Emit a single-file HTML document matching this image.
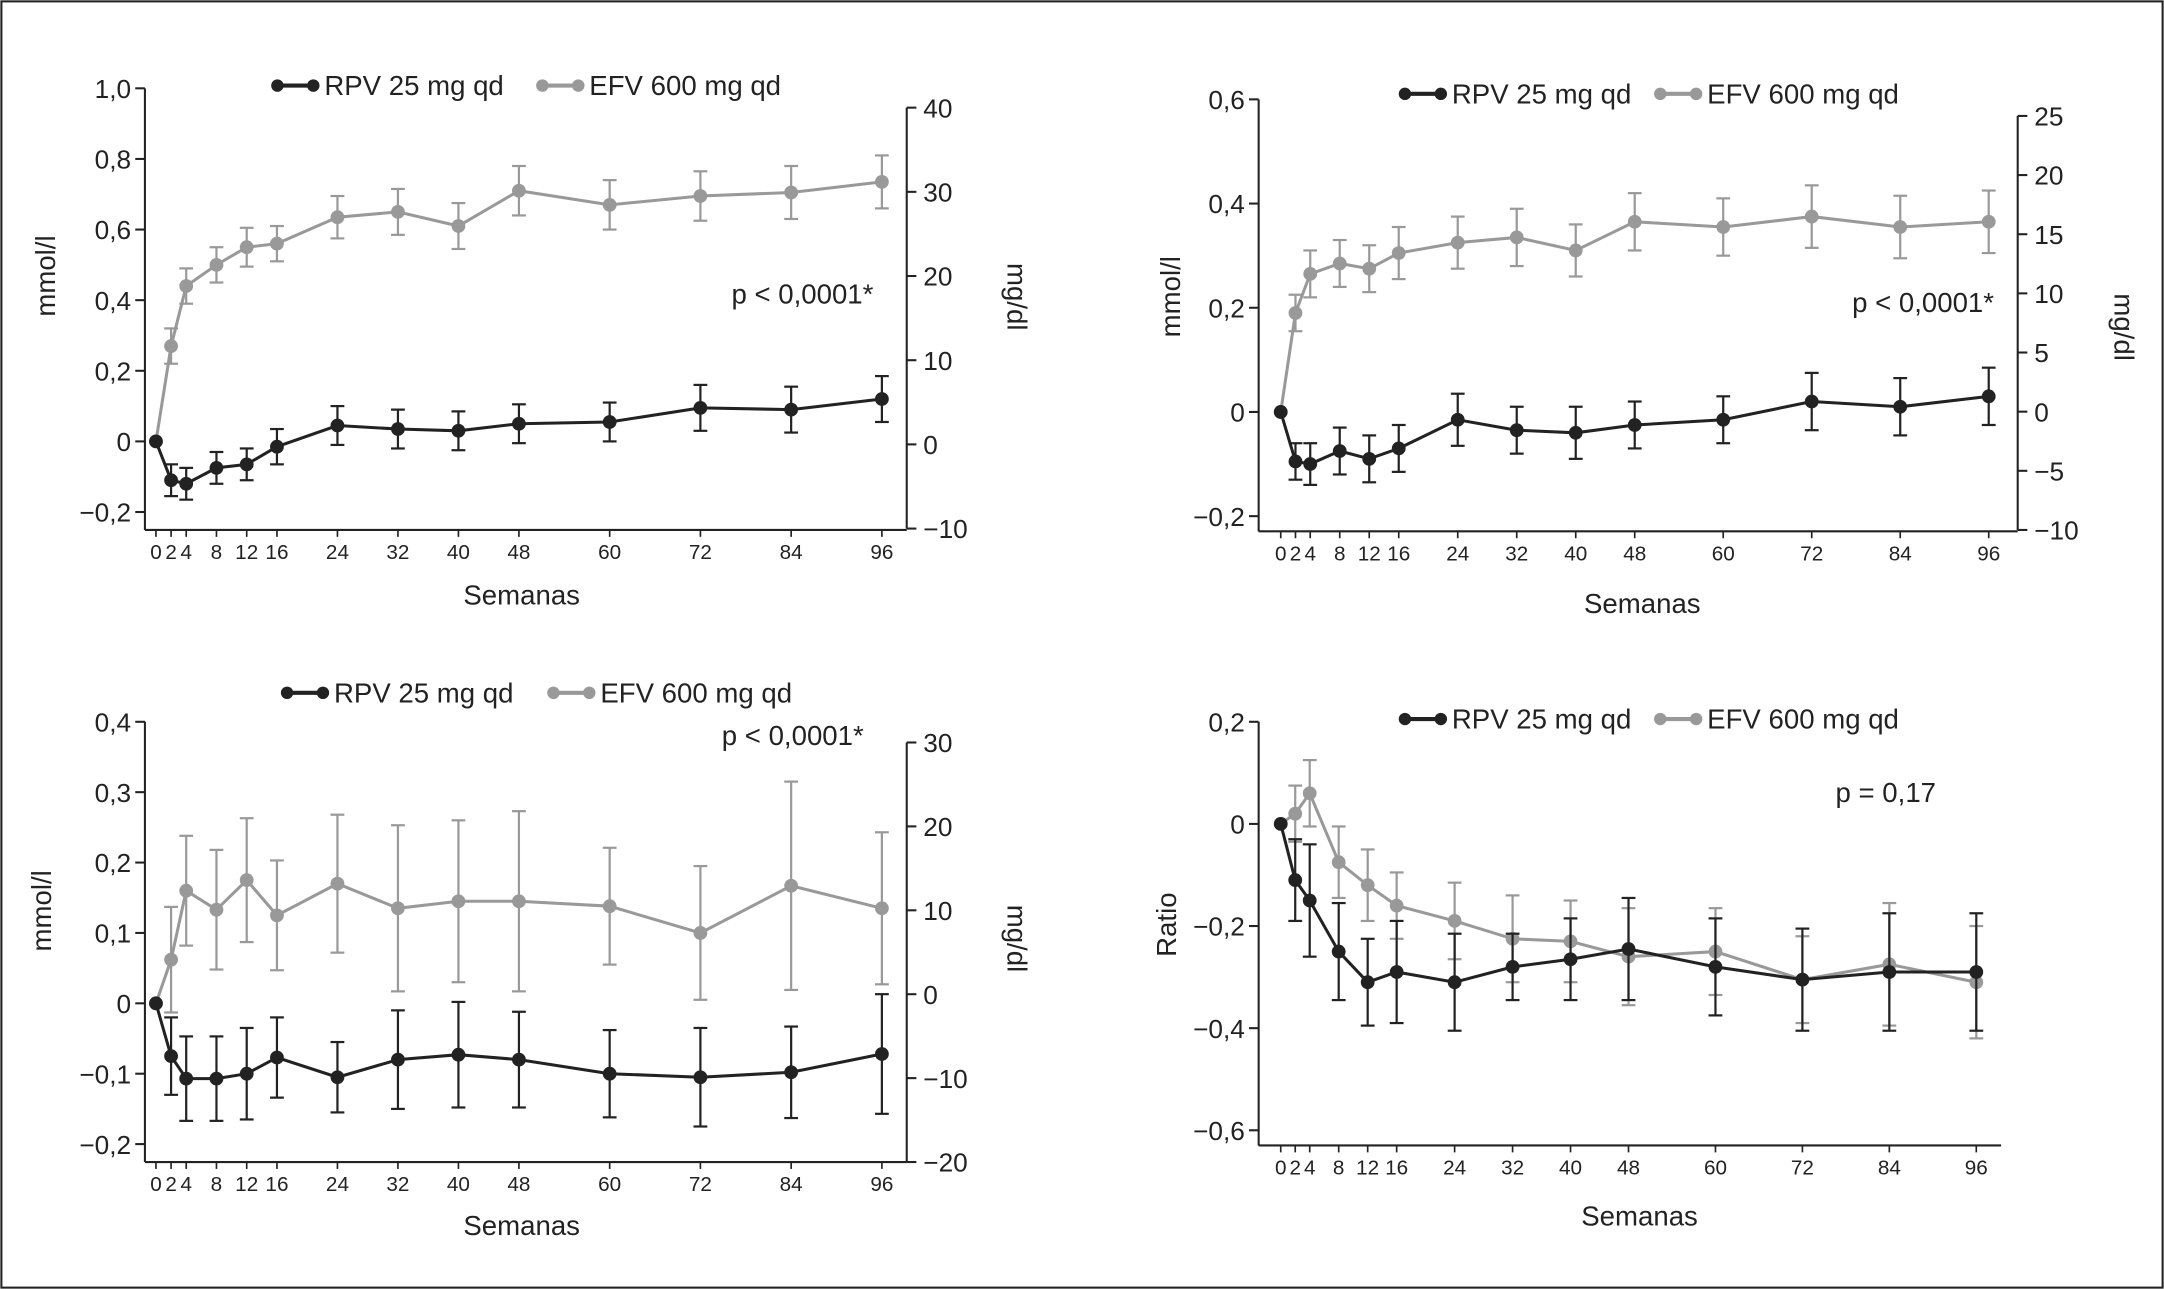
<!DOCTYPE html>
<html><head><meta charset="utf-8"><style>
html,body{margin:0;padding:0;background:#fff}
svg{display:block}
text{font-family:"Liberation Sans Narrow","Liberation Sans",sans-serif;fill:#222}
</style></head><body>
<svg id="fig" width="2164" height="1289" viewBox="0 0 1568 934" xmlns="http://www.w3.org/2000/svg">
<rect x="1" y="1" width="1566" height="932" fill="#fff" stroke="#222" stroke-width="1.5"/>
</svg>
<script>
const weeks=[0,2,4,8,12,16,24,32,40,48,60,72,84,96];
// Panel A
const aEFV=[0,0.27,0.44,0.50,0.55,0.56,0.635,0.65,0.61,0.71,0.67,0.695,0.705,0.735];
const aEFVerr=[0,0.05,0.05,0.05,0.055,0.05,0.06,0.065,0.065,0.07,0.07,0.07,0.075,0.075];
const aRPV=[0,-0.11,-0.12,-0.075,-0.065,-0.015,0.045,0.035,0.03,0.05,0.055,0.095,0.09,0.12];
const aRPVerr=[0,0.045,0.045,0.045,0.045,0.05,0.055,0.055,0.055,0.055,0.055,0.065,0.065,0.065];
const aLeftTicks=[1.0,0.8,0.6,0.4,0.2,0,-0.2];
const aRightTicks=[40,30,20,10,0,-10];
// Panel B
const bEFV=[0,0.19,0.265,0.285,0.275,0.305,0.325,0.335,0.31,0.365,0.355,0.375,0.355,0.365];
const bEFVerr=[0,0.035,0.045,0.045,0.045,0.05,0.05,0.055,0.05,0.055,0.055,0.06,0.06,0.06];
const bRPV=[0,-0.095,-0.1,-0.075,-0.09,-0.07,-0.015,-0.035,-0.04,-0.025,-0.015,0.02,0.01,0.03];
const bRPVerr=[0,0.035,0.04,0.045,0.045,0.045,0.05,0.045,0.05,0.045,0.045,0.055,0.055,0.055];
const bLeftTicks=[0.6,0.4,0.2,0,-0.2];
const bRightTicks=[25,20,15,10,5,0,-5,-10];
// Panel C
const cEFV=[0,0.062,0.16,0.133,0.175,0.125,0.17,0.135,0.145,0.145,0.138,0.1,0.167,0.135];
const cEFVerr=[0,0.075,0.078,0.085,0.088,0.078,0.098,0.118,0.115,0.128,0.083,0.095,0.148,0.108];
const cRPV=[0,-0.075,-0.107,-0.107,-0.1,-0.077,-0.105,-0.08,-0.073,-0.08,-0.1,-0.105,-0.098,-0.072];
const cRPVerr=[0,0.055,0.06,0.06,0.065,0.057,0.05,0.07,0.075,0.068,0.062,0.07,0.065,0.085];
const cLeftTicks=[0.4,0.3,0.2,0.1,0,-0.1,-0.2];
const cRightTicks=[30,20,10,0,-10,-20];
// Panel D
const dEFV=[0,0.02,0.06,-0.075,-0.12,-0.16,-0.19,-0.225,-0.23,-0.26,-0.25,-0.305,-0.275,-0.31];
const dEFVerr=[0,0.055,0.065,0.07,0.07,0.065,0.075,0.085,0.08,0.095,0.085,0.085,0.12,0.11];
const dRPV=[0,-0.11,-0.15,-0.25,-0.31,-0.29,-0.31,-0.28,-0.265,-0.245,-0.28,-0.305,-0.29,-0.29];
const dRPVerr=[0,0.08,0.11,0.095,0.085,0.1,0.095,0.065,0.08,0.1,0.095,0.1,0.115,0.115];
const dLeftTicks=[0.2,0,-0.2,-0.4,-0.6];

const NS="http://www.w3.org/2000/svg";
const svg=document.getElementById('fig');
function mk(tag,attrs,parent,txt){const e=document.createElementNS(NS,tag);for(const k in attrs)e.setAttribute(k,attrs[k]);if(txt!==undefined)e.textContent=txt;(parent||svg).appendChild(e);return e;}
function fmt(v,d){if(Math.abs(v)<1e-9)return '0';let s=v.toFixed(d).replace('.',',').replace('-','\u2212');return s;}

function panel(cfg){
  const g=mk('g',{});
  
  
  const X=w=>cfg.x0+(cfg.x1-cfg.x0)*w/96;
  const Y=v=>cfg.yTop+(cfg.yBot-cfg.yTop)*(cfg.lMax-v)/(cfg.lMax-cfg.lMin);
  const la=mk('line',{x1:cfg.ax,y1:Y(cfg.lMax),x2:cfg.ax,y2:cfg.axB,stroke:'#222','stroke-width':1.5},g);
  
  const xa=mk('line',{x1:cfg.ax,y1:cfg.axB,x2:cfg.axR,y2:cfg.axB,stroke:'#222','stroke-width':1.5},g);
  
  cfg.lTicks.forEach(v=>{
    mk('line',{x1:cfg.ax-7,y1:Y(v),x2:cfg.ax,y2:Y(v),stroke:'#222','stroke-width':1.5},g);
    const t=mk('text',{x:cfg.ax-10,y:Y(v)+7,'text-anchor':'end','font-size':19},g,fmt(v,cfg.lDec));
    
  });
  weeks.forEach(w=>{
    mk('line',{x1:X(w),y1:cfg.axB,x2:X(w),y2:cfg.axB+5,stroke:'#222','stroke-width':1.2},g);
    const t=mk('text',{x:X(w),y:cfg.axB+21,'text-anchor':'middle','font-size':15},g,String(w));
    
  });
  if(cfg.rTicks){
    const RY=v=>cfg.rTop+(cfg.rBot-cfg.rTop)*(cfg.rTicks[0]-v)/(cfg.rTicks[0]-cfg.rTicks[cfg.rTicks.length-1]);
    const ra=mk('line',{x1:cfg.rx,y1:RY(cfg.rTicks[0]),x2:cfg.rx,y2:RY(cfg.rTicks[cfg.rTicks.length-1]),stroke:'#222','stroke-width':1.5},g);
    
    cfg.rTicks.forEach(v=>{
      mk('line',{x1:cfg.rx,y1:RY(v),x2:cfg.rx+7,y2:RY(v),stroke:'#222','stroke-width':1.5},g);
      const t=mk('text',{x:cfg.rx+12,y:RY(v)+7,'font-size':19},g,fmt(v,0));
      
    });
    const rl=mk('text',{x:0,y:0,'font-size':20,'text-anchor':'middle',transform:`translate(${cfg.rlx},${cfg.rly}) rotate(90)`},g,'mg/dl');
    
  }
  const ll=mk('text',{x:0,y:0,'font-size':20,'text-anchor':'middle',transform:`translate(${cfg.llx},${cfg.lly}) rotate(-90)`},g,cfg.lLabel);
  
  const xl=mk('text',{x:cfg.xlx,y:cfg.xly,'font-size':20,'text-anchor':'middle'},g,'Semanas');
  
  const pt=mk('text',{x:cfg.px,y:cfg.py,'font-size':20},g,cfg.pText);
  
  [['RPV 25 mg qd','#222',cfg.leg[0],'legend-rpv'],['EFV 600 mg qd','#999',cfg.leg[1],'legend-efv']].forEach(([lab,col,lx,nm])=>{
    const lg=mk('g',{},g);
    
    mk('line',{x1:lx,y1:cfg.legY,x2:lx+32,y2:cfg.legY,stroke:col,'stroke-width':3},lg);
    mk('circle',{cx:lx+3,cy:cfg.legY,r:4.5,fill:col},lg);
    mk('circle',{cx:lx+29,cy:cfg.legY,r:4.5,fill:col},lg);
    mk('text',{x:lx+37,y:cfg.legY+7,'font-size':20},lg,lab);
  });
  const series=[[cfg.efv,cfg.efvErr,'#999','series-efv'],[cfg.rpv,cfg.rpvErr,'#222','series-rpv']];
  series.forEach(([vals,errs,col,nm])=>{
    const sg=mk('g',{},g);
    
    vals.forEach((v,i)=>{
      if(!errs[i])return;
      const x=X(weeks[i]);
      mk('line',{x1:x,y1:Y(v-errs[i]),x2:x,y2:Y(v+errs[i]),stroke:col,'stroke-width':1.6},sg);
      mk('line',{x1:x-5,y1:Y(v-errs[i]),x2:x+5,y2:Y(v-errs[i]),stroke:col,'stroke-width':1.6},sg);
      mk('line',{x1:x-5,y1:Y(v+errs[i]),x2:x+5,y2:Y(v+errs[i]),stroke:col,'stroke-width':1.6},sg);
    });
    mk('polyline',{points:vals.map((v,i)=>X(weeks[i])+','+Y(v)).join(' '),fill:'none',stroke:col,'stroke-width':2.2},sg);
    vals.forEach((v,i)=>{
      const c=mk('circle',{cx:X(weeks[i]),cy:Y(v),r:5,fill:col},sg);
      
    });
  });
}

panel({name:'panel-top-left',x0:113,x1:639,ax:105,axR:657,axB:384,yTop:64,yBot:371,lMax:1.0,lMin:-0.2,lTicks:aLeftTicks,lDec:1,
  rTicks:aRightTicks,rx:657,rTop:78,rBot:383,rlx:730,rly:215,llx:40,lly:200,lLabel:'mmol/l',xlx:378,xly:438,px:530,py:220,pText:'p < 0,0001*',
  legY:62,leg:[198,390],efv:aEFV,efvErr:aEFVerr,rpv:aRPV,rpvErr:aRPVerr});
panel({name:'panel-top-right',x0:928,x1:1441,ax:912,axR:1462,axB:385,yTop:72,yBot:374,lMax:0.6,lMin:-0.2,lTicks:bLeftTicks,lDec:1,
  rTicks:bRightTicks,rx:1462,rTop:84,rBot:384,rlx:1532,rly:237,llx:855,lly:215,lLabel:'mmol/l',xlx:1190,xly:444,px:1342,py:226,pText:'p < 0,0001*',
  legY:68,leg:[1015,1200],efv:bEFV,efvErr:bEFVerr,rpv:bRPV,rpvErr:bRPVerr});
panel({name:'panel-bottom-left',x0:113,x1:639,ax:105,axR:657,axB:842,yTop:523,yBot:829,lMax:0.4,lMin:-0.2,lTicks:cLeftTicks,lDec:1,
  rTicks:cRightTicks,rx:657,rTop:538,rBot:842,rlx:730,rly:680,llx:37,lly:660,lLabel:'mmol/l',xlx:378,xly:895,px:523,py:540,pText:'p < 0,0001*',
  legY:502,leg:[205,398],efv:cEFV,efvErr:cEFVerr,rpv:cRPV,rpvErr:cRPVerr});
panel({name:'panel-bottom-right',x0:928,x1:1432,ax:912,axR:1450,axB:830,yTop:523,yBot:819,lMax:0.2,lMin:-0.6,lTicks:dLeftTicks,lDec:1,
  rTicks:null,llx:852,lly:670,lLabel:'Ratio',xlx:1188,xly:888,px:1330,py:581,pText:'p = 0,17',
  legY:521,leg:[1015,1200],efv:dEFV,efvErr:dEFVerr,rpv:dRPV,rpvErr:dRPVerr});
</script>
</body></html>
